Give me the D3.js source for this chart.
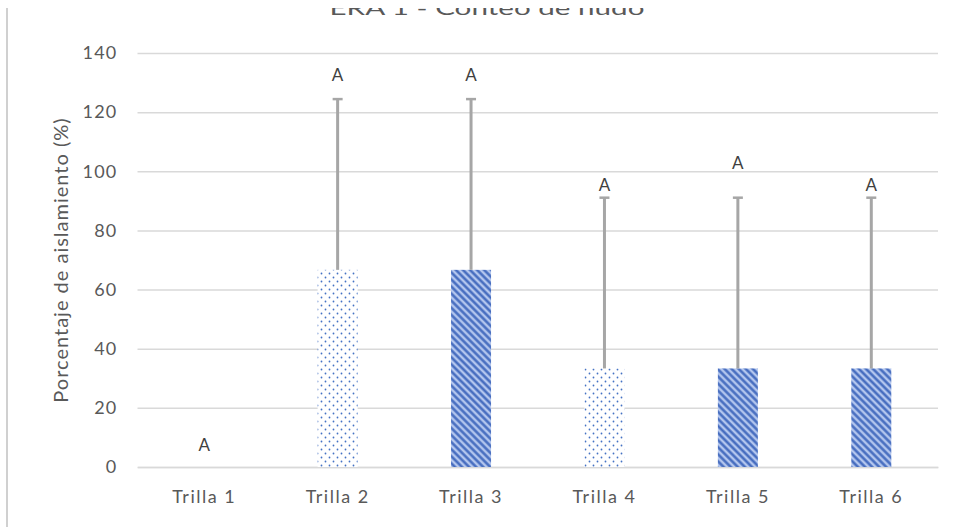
<!DOCTYPE html>
<html>
<head>
<meta charset="utf-8">
<script src="https://cdn.jsdelivr.net/npm/d3@7"></script>
<style>
  html, body { margin: 0; padding: 0; background: #fff; }
  svg { display: block; }
</style>
</head>
<body>
<svg id="chart" width="955" height="527"></svg>
<script>
// Aislamiento por trilla: media, desviación (solo positiva) y letra de agrupación
const categories = ["Trilla 1", "Trilla 2", "Trilla 3", "Trilla 4", "Trilla 5", "Trilla 6"];
const values = [0, 66.67, 66.67, 33.33, 33.33, 33.33];
const errors = [0, 57.74, 57.74, 57.74, 57.74, 57.74];
const fills = ["dots", "dots", "hatch", "dots", "hatch", "hatch"];
const letters = ["A", "A", "A", "A", "A", "A"];
const letterAt = [7.4, 132.6, 132.6, 95.4, 102.8, 95.4];
const yTicks = [0, 20, 40, 60, 80, 100, 120, 140];
const titleText = "ERA 1 - Conteo de nudo";
const yTitle = "Porcentaje de aislamiento (%)";

const svg = d3.select("#chart");
const font = "Lato, 'Open Sans', sans-serif";

const x = d3.scaleBand().domain(categories).range([137.5, 938]).paddingInner(0).paddingOuter(0);
const y = d3.scaleLinear().domain([0, 140]).range([467, 53]);

// Fill patterns
const defs = svg.append("defs");
const dots = defs.append("pattern").attr("id", "dots")
  .attr("patternUnits", "userSpaceOnUse").attr("width", 8).attr("height", 8);
dots.append("rect").attr("width", 8).attr("height", 8).attr("fill", "#fff");
[[1.5, 1.5], [5.5, 5.5]].forEach(([cx, cy]) =>
  dots.append("circle").attr("cx", cx).attr("cy", cy).attr("r", 0.9).attr("fill", "#4472c4"));

const hatch = defs.append("pattern").attr("id", "hatch")
  .attr("patternUnits", "userSpaceOnUse").attr("width", 5).attr("height", 5)
  .attr("patternTransform", "rotate(-45)");
hatch.append("rect").attr("width", 5).attr("height", 5).attr("fill", "#b3c6ee");
hatch.append("line").attr("x1", 1.5).attr("x2", 1.5).attr("y1", 0).attr("y2", 5)
  .attr("stroke", "#4068bd").attr("stroke-width", 2.4);

// Outer frame edge
svg.append("line").attr("x1", 7).attr("x2", 7).attr("y1", 8).attr("y2", 527)
  .attr("stroke", "#d0d0d0").attr("stroke-width", 2);

// Title (top band is cut by the frame)
const titleG = svg.append("g");
titleG.append("text").attr("x", 487).attr("y", 15).attr("text-anchor", "middle")
  .attr("font-family", font).attr("font-size", 20).attr("fill", "#595959")
  .attr("textLength", 315).attr("lengthAdjust", "spacingAndGlyphs")
  .text(titleText);
titleG.append("rect").attr("x", 0).attr("y", 0).attr("width", 955).attr("height", 8).attr("fill", "#fff");

// Gridlines and y axis labels
const yAxis = d3.axisLeft(y).tickValues(yTicks).tickSize(-(938 - 137.5)).tickPadding(20);
const gy = svg.append("g").attr("transform", "translate(137.5,0)").call(yAxis);
gy.select(".domain").remove();
gy.selectAll(".tick line").attr("stroke", "#d9d9d9").attr("stroke-width", 1.5);
gy.selectAll(".tick text").attr("font-family", font).attr("font-size", 18)
  .attr("letter-spacing", 1.2).attr("fill", "#595959");

// x axis labels
const xAxis = d3.axisBottom(x).tickSize(0).tickPadding(23);
const gx = svg.append("g").attr("transform", "translate(0,467)").call(xAxis);
gx.select(".domain").attr("stroke", "#d9d9d9").attr("stroke-width", 1.5);
gx.selectAll(".tick text").attr("font-family", font).attr("font-size", 18)
  .attr("letter-spacing", 1.5).attr("fill", "#595959");

// Bars
const barW = 40;
const cx = d => x(d) + x.bandwidth() / 2;
svg.append("g").selectAll("rect").data(categories).join("rect")
  .attr("x", d => cx(d) - barW / 2)
  .attr("width", barW)
  .attr("y", (d, i) => y(values[i]))
  .attr("height", (d, i) => y(0) - y(values[i]))
  .attr("fill", (d, i) => `url(#${fills[i]})`);

// Error bars (positive direction)
const eg = svg.append("g").selectAll("g").data(categories.filter((d, i) => errors[i] > 0)).join("g");
eg.append("line")
  .attr("x1", d => cx(d)).attr("x2", d => cx(d))
  .attr("y1", d => y(values[categories.indexOf(d)]))
  .attr("y2", d => y(values[categories.indexOf(d)] + errors[categories.indexOf(d)]))
  .attr("stroke", "#a6a6a6").attr("stroke-width", 3);
eg.append("line")
  .attr("x1", d => cx(d) - 5).attr("x2", d => cx(d) + 5)
  .attr("y1", d => y(values[categories.indexOf(d)] + errors[categories.indexOf(d)]))
  .attr("y2", d => y(values[categories.indexOf(d)] + errors[categories.indexOf(d)]))
  .attr("stroke", "#a6a6a6").attr("stroke-width", 2.5);

// Grouping letters
svg.append("g").selectAll("text").data(categories).join("text")
  .attr("x", d => cx(d))
  .attr("y", (d, i) => y(letterAt[i]))
  .attr("dy", "0.35em")
  .attr("text-anchor", "middle")
  .attr("font-family", font).attr("font-size", 17).attr("fill", "#404040")
  .text((d, i) => letters[i]);

// y axis title
svg.append("text")
  .attr("transform", "translate(68,260) rotate(-90)")
  .attr("text-anchor", "middle")
  .attr("font-family", font).attr("font-size", 20).attr("letter-spacing", 1)
  .attr("fill", "#595959")
  .text(yTitle);
</script>
</body>
</html>
